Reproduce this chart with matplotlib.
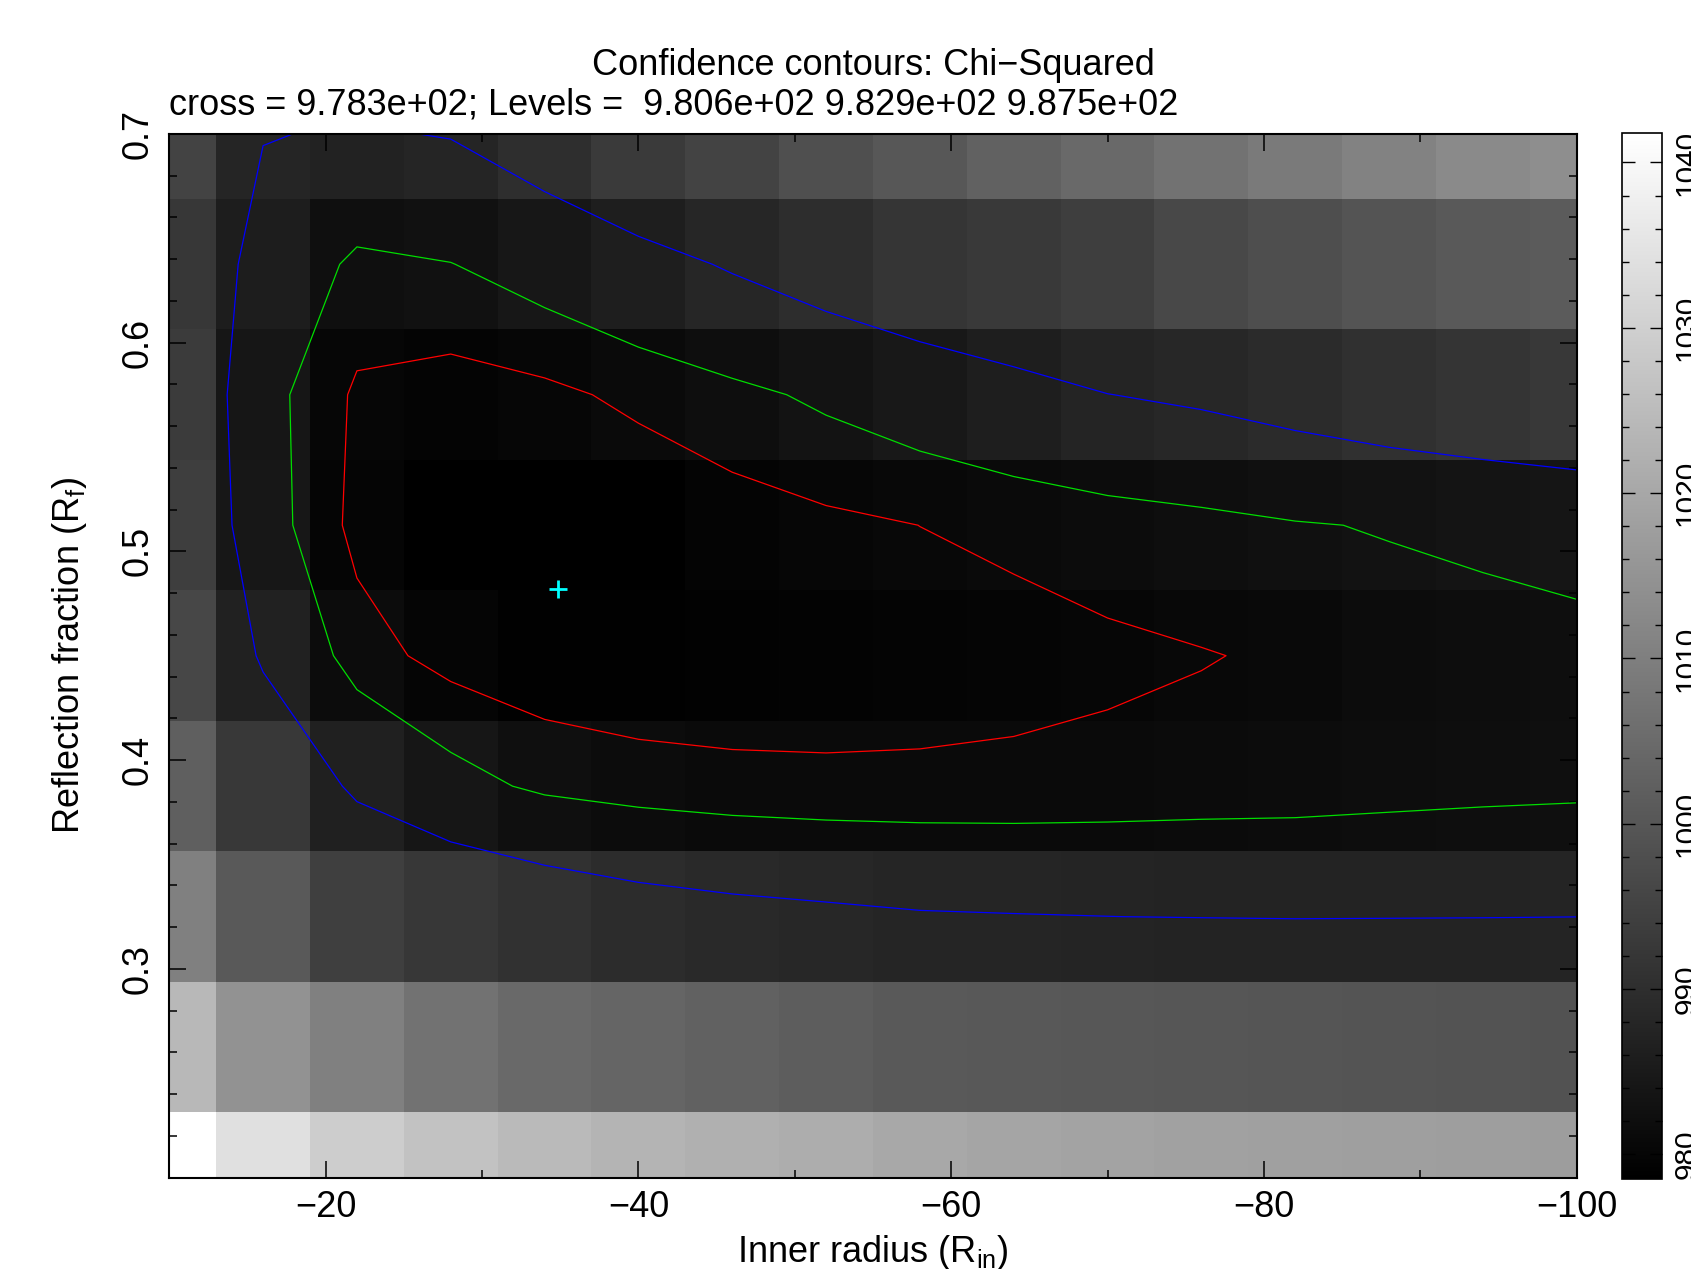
import numpy as np
import matplotlib
matplotlib.use("Agg")
import matplotlib.pyplot as plt
from matplotlib.ticker import FixedLocator, MultipleLocator

plt.rcParams['font.family'] = ['Liberation Sans', 'DejaVu Sans']
plt.rcParams['mathtext.fontset'] = 'custom'
plt.rcParams['mathtext.rm'] = 'Liberation Sans'
plt.rcParams['mathtext.it'] = 'Liberation Sans:italic'

# ---------------- data ----------------
inner_radius = [-10, -16, -22, -28, -34, -40, -46, -52, -58, -64, -70, -76, -82, -88, -94, -100]
refl_fraction = [0.2, 0.2625, 0.325, 0.3875, 0.45, 0.5125, 0.575, 0.6375, 0.7]

chi2_rf_0200 = [1041.8, 1034.1, 1029.3, 1026.6, 1024.6, 1023.1, 1022.1, 1021.4, 1020.1, 1019.4, 1018.9, 1018.4, 1018.1, 1017.9, 1017.6, 1017.4]
chi2_rf_0263 = [1024.1, 1014.7, 1010.2, 1006.7, 1004.7, 1003.7, 1002.7, 1001.7, 1000.7, 1000.4, 1000.2, 999.9, 999.7, 999.4, 999.2, 999.0]
chi2_rf_0325 = [1010.2, 1000.7, 994.2, 992.2, 990.86, 989.6, 988.83, 988.32, 987.83, 987.66, 987.52, 987.4, 987.3, 987.35, 987.4, 987.48]
chi2_rf_0388 = [1002.2, 992.4, 986.6, 984.0, 982.33, 981.61, 981.19, 981.0, 980.98, 981.0, 981.15, 981.37, 981.5, 981.79, 982.05, 982.23]
chi2_rf_0450 = [996.2, 986.8, 981.6, 979.76, 978.95, 978.8, 979.09, 979.43, 979.65, 979.95, 980.21, 980.5, 980.88, 981.5, 981.9, 982.2]
chi2_rf_0513 = [994.0, 984.28, 979.92, 978.7, 978.5, 978.7, 979.52, 980.1, 980.61, 980.99, 981.56, 982.06, 982.69, 983.1, 983.47, 983.82]
chi2_rf_0575 = [993.2, 983.96, 980.23, 979.59, 980.05, 981.13, 982.18, 983.42, 984.64, 986.11, 987.45, 988.2, 989.32, 990.47, 991.47, 992.5]
chi2_rf_0638 = [992.2, 985.8, 982.25, 982.83, 984.32, 985.98, 987.91, 989.81, 991.68, 992.6, 994.0, 996.5, 998.0, 999.5, 1000.6, 1001.2]
chi2_rf_0700 = [995.2, 987.67, 987.14, 987.7, 990.03, 993.08, 995.2, 998.2, 1000.2, 1002.7, 1004.7, 1006.7, 1008.7, 1010.7, 1012.7, 1013.7]

levels = [980.6, 982.9, 987.5]
level_colors = ['#ff0000', '#00dd00', '#0000ff']

cross_chi2 = 978.3
cross_x = [-34.87]
cross_y = [0.482]

x_ticks = [-20, -40, -60, -80, -100]
x_minor = [-30, -50, -70, -90]
y_ticks = [0.3, 0.4, 0.5, 0.6, 0.7]
cb_ticks = [980, 990, 1000, 1010, 1020, 1030, 1040]

# ---------------- plot ----------------
Z = np.array([chi2_rf_0200, chi2_rf_0263, chi2_rf_0325, chi2_rf_0388, chi2_rf_0450,
              chi2_rf_0513, chi2_rf_0575, chi2_rf_0638, chi2_rf_0700])

fig = plt.figure(figsize=(16.91, 12.69), dpi=100)
ax = fig.add_axes([0.1001, 0.0720, 0.8323, 0.8226])
cax = fig.add_axes([0.9594, 0.0707, 0.0233, 0.8247])

mesh = ax.pcolormesh(inner_radius, refl_fraction, Z, cmap='gray', shading='nearest',
                     vmin=Z.min(), vmax=Z.max())
ax.contour(inner_radius, refl_fraction, Z, levels=levels, colors=level_colors, linewidths=0.9)
ax.plot(cross_x, cross_y, '+', color='#00ffff', ms=13, mew=2)

ax.set_xlim(-10, -100)
ax.set_ylim(0.2, 0.7)

ax.set_xticks(x_ticks, [f"\u2212{abs(v)}" for v in x_ticks])
ax.xaxis.set_minor_locator(FixedLocator(x_minor))
ax.set_yticks(y_ticks, [f"{v:.1f}" for v in y_ticks], rotation=90, va='center')
ax.yaxis.set_minor_locator(MultipleLocator(0.02))

ax.tick_params(which='both', direction='in', top=True, right=True, width=1.1, colors='black')
ax.tick_params(which='major', length=12, labelsize=26)
ax.tick_params(which='minor', length=6)
ax.tick_params(axis='x', pad=9)
ax.tick_params(axis='y', pad=10)
for sp in ax.spines.values():
    sp.set_linewidth(1.5)

ax.set_xlabel(r"Inner radius ($\mathrm{R_{in}}$)", fontsize=26)
ax.xaxis.set_label_coords(0.5, -0.053)
ax.xaxis.label.set_va('top')
ax.set_ylabel(r"Reflection fraction ($\mathrm{R_{f}}$)", fontsize=26)
ax.yaxis.set_label_coords(-0.0568, 0.5)

cb = fig.colorbar(mesh, cax=cax)
cb.outline.set_linewidth(1.2)
cb.set_ticks(cb_ticks)
cax.set_yticks(cb_ticks, [str(v) for v in cb_ticks], rotation=90, va='center')
cax.yaxis.set_minor_locator(MultipleLocator(2))
cax.tick_params(which='both', direction='in', left=True, right=True,
                labelleft=False, labelright=True, width=1.0)
cax.tick_params(which='major', length=9, labelsize=21.5, pad=8)
cax.tick_params(which='minor', length=5)

x_center = (0.1001 + 0.1001 + 0.8323) / 2
fig.text(x_center, 0.9409, "Confidence contours: Chi\u2212Squared", ha='center', va='baseline', fontsize=26)
subtitle = f"cross = {cross_chi2:.3e}; Levels =  " + " ".join(f"{v:.3e}" for v in levels)
fig.text(0.1001, 0.9094, subtitle, ha='left', va='baseline', fontsize=26)

fig.savefig("out.png", dpi=100)
